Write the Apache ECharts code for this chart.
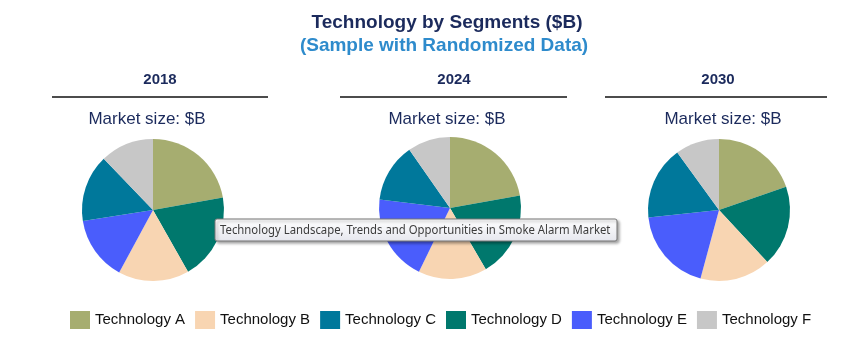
<!DOCTYPE html>
<html>
<head>
<meta charset="utf-8">
<script src="https://cdn.jsdelivr.net/npm/echarts@6/dist/echarts.min.js"></script>
<style>html,body{margin:0;padding:0;background:#fff;}#c{width:868px;height:357px;}</style>
</head>
<body>
<div id="c"></div>
<script>
var categories = ['Technology A','Technology B','Technology C','Technology D','Technology E','Technology F'];
var colors = ['#a6ad70','#f8d5b2','#00789b','#00786d','#4a5dfc','#c7c7c7'];
var sliceOrder = ['Technology A','Technology D','Technology B','Technology E','Technology C','Technology F'];
var years = ['2018','2024','2030'];
var values2018 = [22.2, 16.1, 15.3, 19.6, 14.6, 12.2];
var values2024 = [22.2, 15.6, 13.4, 19.4, 19.7, 9.7];
var values2030 = [19.7, 16.1, 16.7, 18.4, 19.1, 10.0];
var allValues = [values2018, values2024, values2030];

var pieCenters = [[153,210],[450,208],[719,210]];
var yearX = [160, 454, 718];
var lineSpans = [[52,268],[340,567],[605,827]];
var mktX = [147, 447, 723];
var navy = '#1b2a5c';
var font = '"Liberation Sans", Arial, sans-serif';

var chart = echarts.init(document.getElementById('c'));
var series = years.map(function(y, i){
  var vals = allValues[i];
  return {
    type: 'pie',
    name: y,
    center: pieCenters[i],
    radius: 71,
    startAngle: 90,
    clockwise: true,
    label: {show: false},
    labelLine: {show: false},
    emphasis: {disabled: true},
    itemStyle: {borderWidth: 0},
    animation: false,
    data: sliceOrder.map(function(n){
      var k = categories.indexOf(n);
      return {name: n, value: vals[k], itemStyle: {color: colors[k]}};
    })
  };
});

var graphics = [
  {type:'text', style:{x:447, y:23, text:'Technology by Segments ($B)', font:'bold 19px ' + font, fill:navy, textAlign:'center', textVerticalAlign:'middle'}},
  {type:'text', style:{x:444, y:46, text:'(Sample with Randomized Data)', font:'bold 19px ' + font, fill:'#2e8bcc', textAlign:'center', textVerticalAlign:'middle'}}
];
years.forEach(function(y, i){
  graphics.push({type:'text', style:{x:yearX[i], y:80, text:y, font:'bold 15px ' + font, fill:navy, textAlign:'center', textVerticalAlign:'middle'}});
  graphics.push({type:'line', shape:{x1:lineSpans[i][0], y1:97, x2:lineSpans[i][1], y2:97}, style:{stroke:'#111', lineWidth:1.3}});
  graphics.push({type:'text', style:{x:mktX[i], y:119, text:'Market size: $B', font:'17px ' + font, fill:navy, textAlign:'center', textVerticalAlign:'middle'}});
});
graphics.push({
  type:'group', zlevel: 1, z: 100,
  children:[
    {type:'rect', zlevel: 1, z: 100, shape:{x:215, y:219, width:402, height:22, r:2},
     style:{fill:new echarts.graphic.LinearGradient(0,0,0,1,[{offset:0,color:'#ffffff'},{offset:1,color:'#e6e7ee'}]), stroke:'#767676', lineWidth:1, shadowBlur:3, shadowOffsetX:2, shadowOffsetY:2, shadowColor:'rgba(0,0,0,0.35)'}},
    {type:'text', zlevel: 1, z: 101, x:220, y:230.5, scaleX:0.9, style:{x:0, y:0, text:'Technology Landscape, Trends and Opportunities in Smoke Alarm Market', font:'12.6px "Noto Sans", "Open Sans", sans-serif', fill:'#3c3c3c', textAlign:'left', textVerticalAlign:'middle'}}
  ]
});

chart.setOption({
  animation: false,
  backgroundColor: '#fff',
  legend: {
    data: categories,
    left: 65,
    top: 306,
    icon: 'rect',
    itemWidth: 20,
    itemHeight: 18,
    itemGap: 10,
    selectedMode: false,
    textStyle: {fontSize: 15, fontFamily: font, color: '#111'}
  },
  graphic: graphics,
  series: series
});
</script>
</body>
</html>
